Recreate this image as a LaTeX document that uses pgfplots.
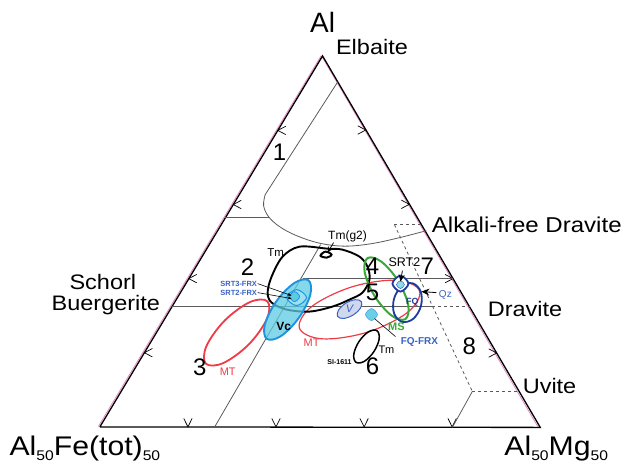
\documentclass[border=0pt]{standalone}
\usepackage{pgfplots}
\pgfplotsset{compat=1.18}
\usepackage{fontspec}
\setmainfont{Liberation Sans}
\usetikzlibrary{arrows.meta}
\definecolor{mtred}{HTML}{EE3B45}
\definecolor{vcblue}{HTML}{1E94E0}
\definecolor{vcfill}{HTML}{5CCBE2}
\definecolor{msgreen}{HTML}{3AA838}
\definecolor{navy}{HTML}{1C3C9E}
\definecolor{lblue}{HTML}{3A62C4}
\definecolor{vfill}{HTML}{D0D8EE}
\definecolor{fieldgray}{HTML}{5A5A5A}
\definecolor{pinkline}{HTML}{E68AC8}
\newcommand{\wide}[1]{\scalebox{1.12}[1]{#1}}
\begin{document}
\begin{tikzpicture}
\begin{axis}[scale only axis, width=625pt, height=469pt,
  xmin=0, xmax=625, ymin=0, ymax=469, y dir=reverse,
  hide axis, clip=false]
% background extent
\addplot[draw=none] coordinates {(0,0) (625,469)};
% pink side lines
\addplot[pinkline, line width=0.8pt] coordinates {(322,56) (539,428)};
\addplot[pinkline, line width=0.8pt] coordinates {(98.5,427) (321.5,56)};
% triangle
\addplot[black, line width=1.3pt] coordinates {(100,427.5) (541,428) (323,56) (100,427.5)};
% ticks bottom
\addplot[black, line width=0.7pt] coordinates {(184,419) (188.2,427.5) (192.4,419)};
\addplot[black, line width=0.7pt] coordinates {(272.2,419) (276.4,427.5) (280.6,419)};
\addplot[black, line width=0.7pt] coordinates {(360.4,419) (364.6,427.5) (368.8,419)};
\addplot[black, line width=0.7pt] coordinates {(448.6,419) (452.8,427.5) (457,419)};
% ticks left
\addplot[black, line width=0.7pt] coordinates {(152.6,349) (144.6,353.2) (152.6,357.4)};
\addplot[black, line width=0.7pt] coordinates {(197,274.8) (189,279) (197,283.2)};
\addplot[black, line width=0.7pt] coordinates {(241.6,200.6) (233.6,204.8) (241.6,209)};
\addplot[black, line width=0.7pt] coordinates {(286.2,126.4) (278.2,130.6) (286.2,134.8)};
% ticks right
\addplot[black, line width=0.7pt] coordinates {(489.4,349.3) (497.4,353.5) (489.4,357.7)};
\addplot[black, line width=0.7pt] coordinates {(445.7,274.8) (453.7,279) (445.7,283.2)};
\addplot[black, line width=0.7pt] coordinates {(401.9,200.4) (409.9,204.6) (401.9,208.8)};
\addplot[black, line width=0.7pt] coordinates {(358.3,126) (366.3,130.2) (358.3,134.4)};
% field boundaries
\addplot[fieldgray, line width=0.8pt] coordinates {(338.2,82) (265.5,195)};
\addplot[fieldgray, line width=0.8pt, smooth, tension=0.6] coordinates {(265.5,195) (264,206) (269,217) (280,227) (297,236) (320,243.5) (345,246.5) (372,244) (400,238) (427,231)};
\addplot[fieldgray, line width=0.8pt] coordinates {(225.6,218) (269,218)};
\addplot[fieldgray, line width=0.8pt] coordinates {(215,427.5) (321,245)};
\addplot[fieldgray, line width=0.8pt] coordinates {(303,278.5) (453.4,278.5)};
\addplot[fieldgray, line width=0.8pt] coordinates {(172.1,307) (433,307)};
\addplot[fieldgray, line width=0.8pt, dashed] coordinates {(433,307) (470.2,307)};
\addplot[fieldgray, line width=0.8pt, dashed] coordinates {(395,225) (473,392)};
\addplot[fieldgray, line width=0.8pt, dashed] coordinates {(395,225) (422.5,225)};
\addplot[fieldgray, line width=0.8pt, dashed] coordinates {(473,392) (520,392)};
\addplot[fieldgray, line width=0.8pt] coordinates {(473,392) (453,428)};
% MT left ellipse (field 3)
\addplot[mtred, line width=1.8pt, smooth cycle, tension=0.6] coordinates {(267.8,301.8) (267.3,319.3) (249.1,344.9) (223.7,363.5) (206.2,364.2) (206.7,346.7) (224.9,321.1) (250.3,302.5)};
% MT big ellipse
\addplot[mtred, line width=1.2pt, smooth cycle, tension=0.6] coordinates {(420.2,291.6) (407.5,313.3) (367.0,332.9) (322.5,339.3) (299.8,328.4) (312.5,306.7) (353.0,287.1) (397.5,280.7)};
% black Tm loop
\addplot[black, line width=1.9pt, smooth cycle, tension=0.55] coordinates {(328,249) (300,247) (283,257) (272,277) (268,293) (272,303) (287,310) (310,312) (333,307) (350,300) (363,293) (370,280) (368,267) (360,257) (343,250)};
% Vc cyan ellipse
\addplot[draw=vcblue, line width=1.9pt, fill=vcfill, fill opacity=0.75, smooth cycle, tension=0.6] coordinates {(308.8,280.6) (310.8,294.9) (299.4,318.1) (281.4,336.5) (267.2,339.4) (265.2,325.1) (276.6,301.9) (294.6,283.5)};
% SRT small ellipse in Vc
\addplot[draw=vcblue, line width=1pt, fill=vcfill!60!white, smooth cycle, tension=0.6] coordinates {(307,298) (297,306) (287,298) (297,290)};
\addplot[draw=vcblue, line width=0.8pt, fill=vcfill, smooth cycle, tension=0.6] coordinates {(300,297) (295,302) (290,297) (295,292)};
% V ellipse
\addplot[draw=lblue, line width=1pt, fill=vfill, smooth cycle, tension=0.6] coordinates {(361.9,302.1) (361.0,308.5) (353.7,315.4) (344.2,318.9) (338.1,316.9) (339.0,310.5) (346.3,303.6) (355.8,300.1)};
% FQ-FRX circle
\addplot[draw=vcfill!80!blue, line width=0.6pt, fill=vcfill!90!white, smooth cycle, tension=0.6] coordinates {(378,315) (372,321) (366,315) (372,309)};
% green MS ellipse
\addplot[msgreen, line width=2pt, smooth cycle, tension=0.6] coordinates {(405.9,319.6) (408.8,305.5) (398.9,281.6) (382.0,262.1) (368.1,258.4) (365.2,272.5) (375.1,296.4) (392.0,315.9)};
% navy FQ ellipse
\addplot[navy, line width=1.8pt, smooth cycle, tension=0.6] coordinates {(413.2,283.7) (421.3,292.0) (421.5,306.6) (413.9,319.2) (402.8,322.3) (394.7,314.0) (394.5,299.4) (402.1,286.8)};
% SRT2 circle
\addplot[navy, line width=1.8pt, fill=white, smooth cycle, tension=0.6] coordinates {(409,284) (401,292) (393,284) (401,276)};
\addplot[draw=lblue, line width=0.5pt, fill=vcfill!70!white, smooth cycle, tension=0.6] coordinates {(405,285) (401,289) (397,285) (401,281)};
% Tm small ellipse (field 6)
\addplot[black, line width=1.5pt, smooth cycle, tension=0.6] coordinates {(377.5,331.2) (379.7,339.4) (374.5,352.0) (364.9,361.8) (356.5,362.8) (354.3,354.6) (359.5,342.0) (369.1,332.2)};
% Tm(g2) marker
\addplot[black, line width=2pt, smooth cycle, tension=0.6] coordinates {(332,255) (327,258) (321,256) (326,252)};
% arrows
\addplot[black, line width=0.8pt, -{Stealth[length=6pt,width=5pt]}] coordinates {(334,243) (328,253)};
\addplot[black, line width=0.6pt, -{Stealth[length=4pt,width=3pt]}] coordinates {(258,284) (292,296)};
\addplot[black, line width=0.6pt, -{Stealth[length=4pt,width=3pt]}] coordinates {(258,293) (292,299)};
\addplot[black, line width=0.8pt, -{Stealth[length=7pt,width=6pt]}] coordinates {(403,271) (401,282)};
\addplot[black, line width=0.8pt, -{Stealth[length=8pt,width=7pt]}] coordinates {(437,293) (422,292)};
\addplot[black, line width=0.6pt] coordinates {(396,337) (375,319)};
% labels
\node[font=\fontsize{28}{30}\selectfont] at (axis cs:323,22) {Al};
\node[font=\fontsize{21}{24}\selectfont, anchor=west] at (axis cs:333,47) {\wide{Elbaite}};
\node[font=\fontsize{21.5}{24}\selectfont, anchor=west] at (axis cs:429,225) {\wide{Alkali-free Dravite}};
\node[font=\fontsize{21}{24}\selectfont] at (axis cs:103,282) {\wide{Schorl}};
\node[font=\fontsize{21}{24}\selectfont] at (axis cs:106,305) {\wide{Buergerite}};
\node[font=\fontsize{21}{24}\selectfont, anchor=west] at (axis cs:485,309) {\wide{Dravite}};
\node[font=\fontsize{21}{24}\selectfont, anchor=west] at (axis cs:520,387) {\wide{Uvite}};
\node[font=\fontsize{27}{30}\selectfont] at (axis cs:85,449) {\wide{Al\raisebox{-0.35ex}{\fontsize{14}{16}\selectfont 50}Fe(tot)\raisebox{-0.35ex}{\fontsize{14}{16}\selectfont 50}}};
\node[font=\fontsize{27}{30}\selectfont] at (axis cs:557,449) {\wide{Al\raisebox{-0.35ex}{\fontsize{14}{16}\selectfont 50}Mg\raisebox{-0.35ex}{\fontsize{14}{16}\selectfont 50}}};
\node[font=\fontsize{24}{26}\selectfont] at (axis cs:280,152) {1};
\node[font=\fontsize{24}{26}\selectfont] at (axis cs:248,268) {2};
\node[font=\fontsize{24}{26}\selectfont] at (axis cs:200,368) {3};
\node[font=\fontsize{24}{26}\selectfont] at (axis cs:373,267) {4};
\node[font=\fontsize{24}{26}\selectfont] at (axis cs:373,293) {5};
\node[font=\fontsize{24}{26}\selectfont] at (axis cs:373,367) {6};
\node[font=\fontsize{24}{26}\selectfont] at (axis cs:428,267) {7};
\node[font=\fontsize{24}{26}\selectfont] at (axis cs:470,347) {8};
\node[font=\fontsize{11.5}{12}\selectfont] at (axis cs:276,253) {Tm};
\node[font=\fontsize{12}{13}\selectfont] at (axis cs:348,237) {Tm(g2)};
\node[font=\bfseries\fontsize{7.5}{8}\selectfont, text=lblue] at (axis cs:239,284) {SRT3-FRX};
\node[font=\bfseries\fontsize{7.5}{8}\selectfont, text=lblue] at (axis cs:239,293) {SRT2-FRX};
\node[font=\bfseries\fontsize{12}{13}\selectfont] at (axis cs:284,327) {Vc};
\node[font=\fontsize{11}{12}\selectfont, text=mtred] at (axis cs:228,372) {MT};
\node[font=\fontsize{11}{12}\selectfont, text=mtred] at (axis cs:312,343) {MT};
\node[font=\itshape\fontsize{11}{12}\selectfont, text=lblue] at (axis cs:350,309) {V};
\node[font=\fontsize{12.5}{13}\selectfont] at (axis cs:405,263) {SRT2};
\node[font=\fontsize{10}{11}\selectfont, text=lblue] at (axis cs:446,295) {Qz};
\node[font=\bfseries\fontsize{9}{10}\selectfont, text=navy] at (axis cs:413,303) {FQ};
\node[font=\bfseries\fontsize{11}{12}\selectfont, text=msgreen] at (axis cs:397,327) {MS};
\node[font=\bfseries\fontsize{10}{11}\selectfont, text=lblue] at (axis cs:420,342) {FQ-FRX};
\node[font=\fontsize{11}{12}\selectfont] at (axis cs:387,350) {Tm};
\node[font=\bfseries\fontsize{7}{8}\selectfont] at (axis cs:340,363) {SI-1611};
\end{axis}
\end{tikzpicture}
\end{document}
